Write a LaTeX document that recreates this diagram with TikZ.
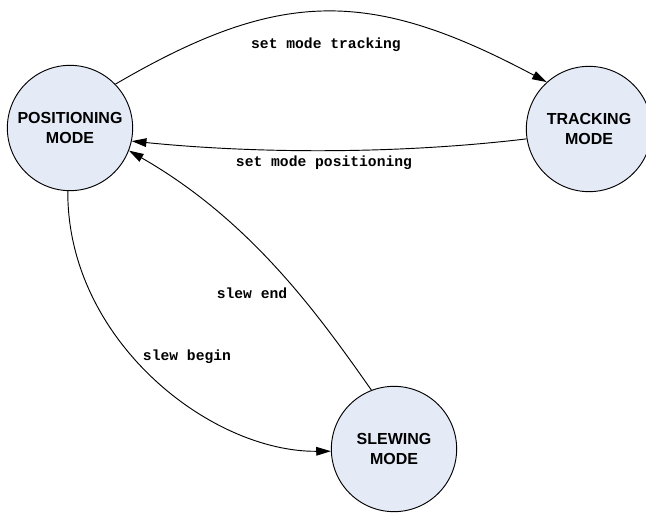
\documentclass[tikz,border=0pt]{standalone}
\usepackage{fontspec}
\setmainfont{Liberation Sans}
\setmonofont{Liberation Mono}
\usetikzlibrary{arrows.meta}
\definecolor{statefill}{RGB}{228,234,246}

\begin{document}
\begin{tikzpicture}[
    x=0.75pt, y=0.75pt,
    line width=0.7pt,
    state/.style={circle, draw, fill=statefill, minimum size=94pt, inner sep=0pt,
        align=center, font=\bfseries\fontsize{12}{15}\selectfont},
    trans/.style={font=\ttfamily\bfseries\fontsize{11}{13}\selectfont},
    >={Triangle[length=11pt,width=6.5pt]}
]
    \useasboundingbox (0,0) rectangle (646,512);

    \node[state] (pos) at (70,384) {POSITIONING\\MODE};
    \node[state] (trk) at (589,383) {TRACKING\\MODE};
    \node[state] (slw) at (394,63) {SLEWING\\MODE};

    \node[trans] (lblTrk) at (326,467) {set mode tracking};
    \node[trans] (lblPos) at (324,349) {set mode positioning};
    \node[trans] (lblEnd) at (252,219) {slew end};
    \node[trans] (lblBeg) at (187,155) {slew begin};

    \draw[->] (pos.44) .. controls (280,524) and (370,524) .. (trk.132);
    \draw[->] (trk.189) .. controls (400,358) and (260,358) .. (pos.-12);
    \draw[->] (pos.-92) .. controls (67,172) and (210,60) .. (slw.182);
    \draw[->] (slw.111) .. controls (320,195) and (252,291) .. (pos.-21);
\end{tikzpicture}
\end{document}
